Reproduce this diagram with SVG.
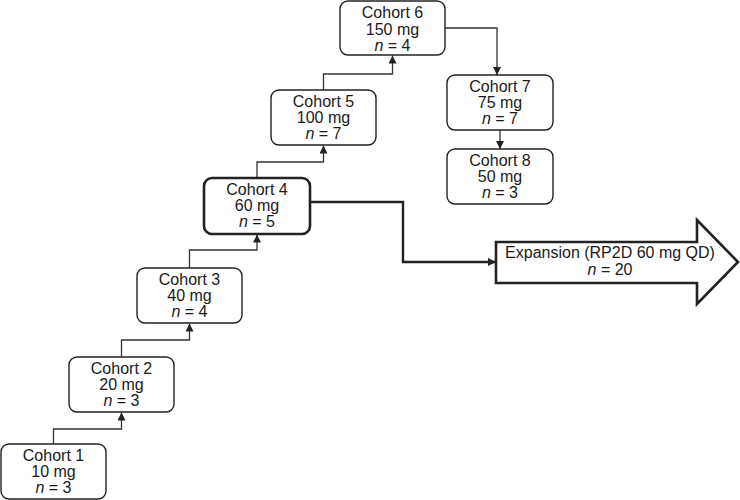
<svg xmlns="http://www.w3.org/2000/svg" width="740" height="500" viewBox="0 0 740 500">
<defs>
<style>
.box{fill:#fff;stroke:#222;stroke-width:1.4}
.bold{stroke-width:2.6}
.t{font-family:"Liberation Sans",Arial,sans-serif;font-size:16px;fill:#1a1a1a;text-anchor:middle}
.i{font-style:italic}
.c{fill:none;stroke:#333;stroke-width:1.3}
.ct{fill:none;stroke:#222;stroke-width:2.4}
</style>
<marker id="ah" viewBox="0 0 10 10" refX="10" refY="5" markerWidth="8" markerHeight="8" markerUnits="userSpaceOnUse" orient="auto">
<path d="M0,0 L10,5 L0,10 Z" fill="#222"/>
</marker>
</defs>
<rect width="740" height="500" fill="#fff"/>
<g id="connectors">
<path class="c" d="M53.5,444 V429 H121.5 V412.5" marker-end="url(#ah)"/>
<path class="c" d="M121.5,357 V340 H189.5 V323.5" marker-end="url(#ah)"/>
<path class="c" d="M189.5,268 V250 H257 V234.5" marker-end="url(#ah)"/>
<path class="c" d="M257,178 V162 H323.5 V145.5" marker-end="url(#ah)"/>
<path class="c" d="M323.5,90 V74 H392.5 V55.5" marker-end="url(#ah)"/>
<path class="c" d="M445,28 H497 V75" marker-end="url(#ah)"/>
<path class="c" d="M500,130 V149" marker-end="url(#ah)"/>
<path class="ct" d="M310,202 H403 V262 H496" marker-end="url(#ah)"/>
</g>
<g id="cohort1">
<rect class="box" x="1" y="444" width="105" height="55" rx="8"/>
<text class="t" x="53.5" y="461">Cohort 1</text>
<text class="t" x="53.5" y="477">10 mg</text>
<text class="t" x="53.5" y="493"><tspan class="i">n</tspan> = 3</text>
</g>
<g id="cohort2">
<rect class="box" x="69" y="357" width="105" height="55" rx="8"/>
<text class="t" x="121.5" y="374">Cohort 2</text>
<text class="t" x="121.5" y="390">20 mg</text>
<text class="t" x="121.5" y="406"><tspan class="i">n</tspan> = 3</text>
</g>
<g id="cohort3">
<rect class="box" x="137" y="268" width="105" height="55" rx="8"/>
<text class="t" x="189.5" y="285">Cohort 3</text>
<text class="t" x="189.5" y="301">40 mg</text>
<text class="t" x="189.5" y="317"><tspan class="i">n</tspan> = 4</text>
</g>
<g id="cohort4">
<rect class="box bold" x="204" y="178" width="106" height="56" rx="8"/>
<text class="t" x="257" y="195">Cohort 4</text>
<text class="t" x="257" y="211">60 mg</text>
<text class="t" x="257" y="227"><tspan class="i">n</tspan> = 5</text>
</g>
<g id="cohort5">
<rect class="box" x="271" y="90" width="105" height="55" rx="8"/>
<text class="t" x="323.5" y="107">Cohort 5</text>
<text class="t" x="323.5" y="123">100 mg</text>
<text class="t" x="323.5" y="139"><tspan class="i">n</tspan> = 7</text>
</g>
<g id="cohort6">
<rect class="box" x="340" y="1" width="105" height="54" rx="8"/>
<text class="t" x="392.5" y="18">Cohort 6</text>
<text class="t" x="392.5" y="35">150 mg</text>
<text class="t" x="392.5" y="51"><tspan class="i">n</tspan> = 4</text>
</g>
<g id="cohort7">
<rect class="box" x="447" y="75" width="106" height="55" rx="8"/>
<text class="t" x="500" y="92">Cohort 7</text>
<text class="t" x="500" y="108">75 mg</text>
<text class="t" x="500" y="124"><tspan class="i">n</tspan> = 7</text>
</g>
<g id="cohort8">
<rect class="box" x="447" y="149" width="106" height="55" rx="8"/>
<text class="t" x="500" y="166">Cohort 8</text>
<text class="t" x="500" y="182">50 mg</text>
<text class="t" x="500" y="198"><tspan class="i">n</tspan> = 3</text>
</g>
<g id="expansion">
<path d="M496,242 H697 V220 L738,262 L697,304 V283 H496 Z" fill="#fff" stroke="#222" stroke-width="2.6" stroke-linejoin="miter"/>
<text class="t" x="610" y="258">Expansion (RP2D 60 mg QD)</text>
<text class="t" x="610" y="275"><tspan class="i">n</tspan> = 20</text>
</g>
</svg>
